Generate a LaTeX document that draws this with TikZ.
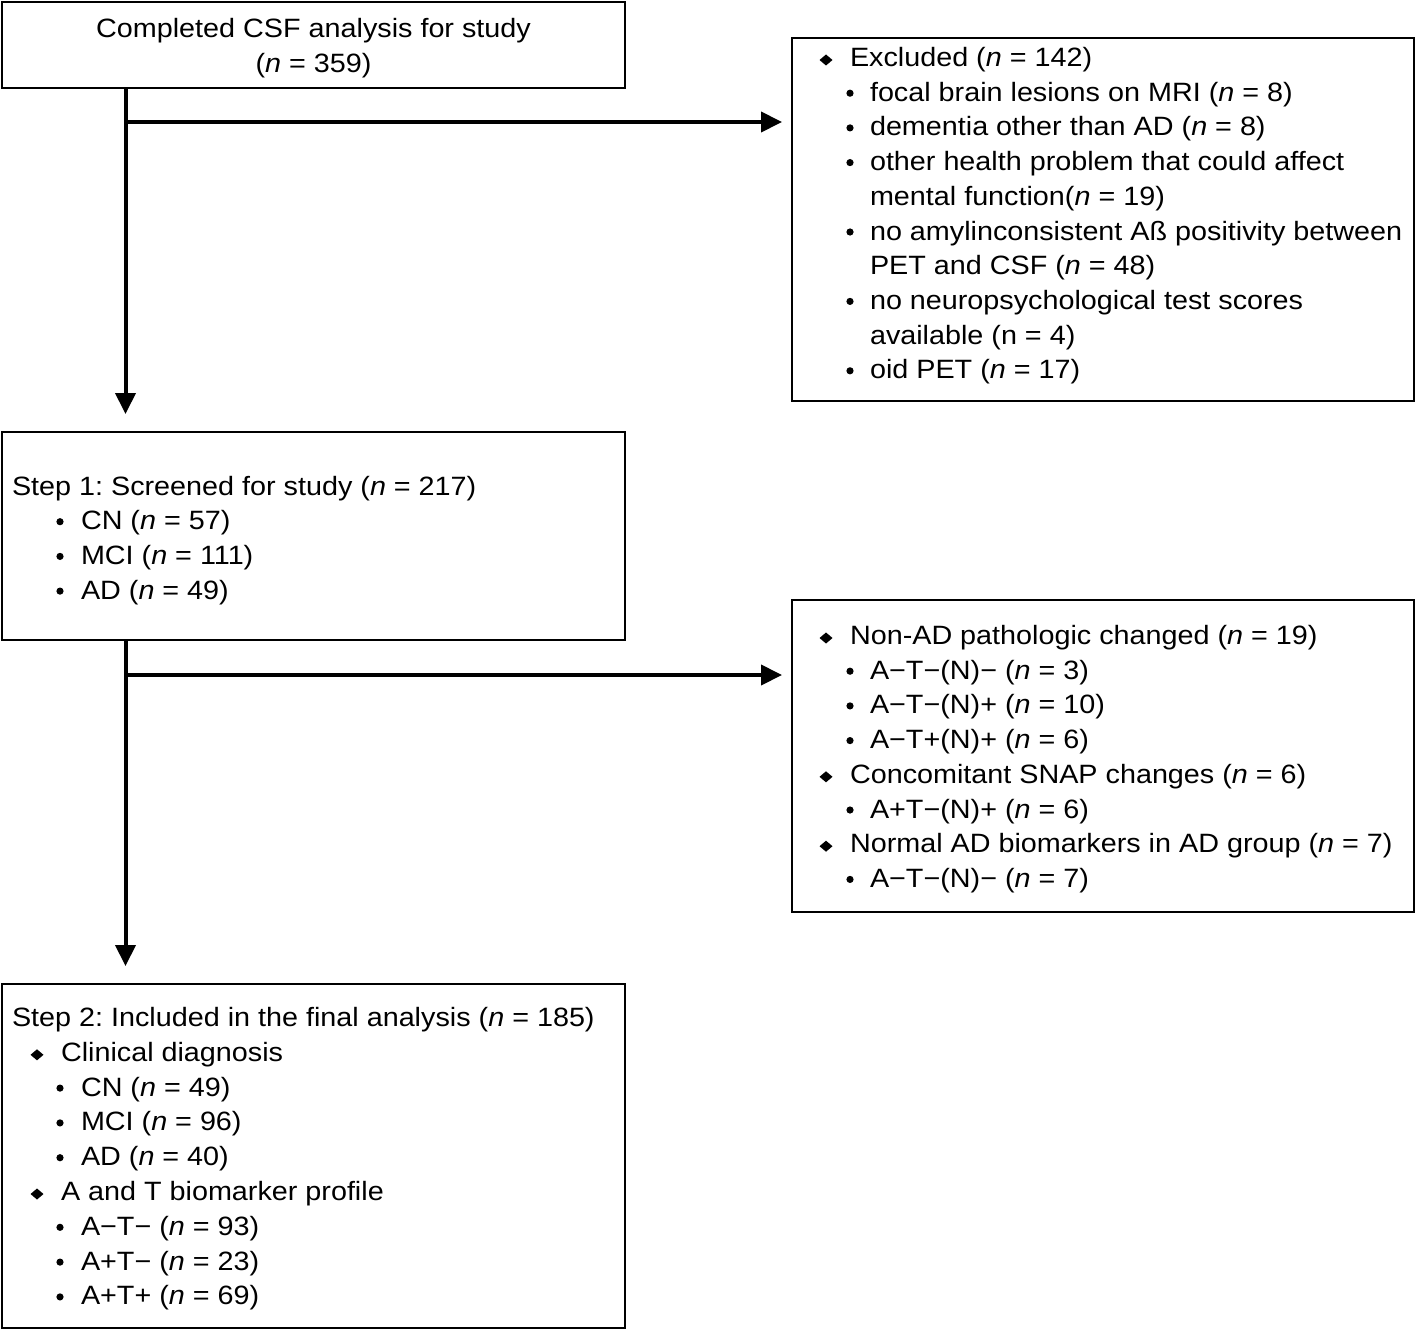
\documentclass[tikz,border=0pt]{standalone}
\usepackage{fontspec}
\setmainfont[FakeStretch=1.085]{Liberation Sans}
\usetikzlibrary{arrows.meta,fit}
\tikzset{
  box/.style={draw=black, line width=1pt, inner sep=0pt, fill=none},
  txt/.style={anchor=base west, inner sep=0pt, outer sep=0pt, font=\fontsize{13.25}{16}\selectfont},
  ctxt/.style={anchor=base, inner sep=0pt, outer sep=0pt, font=\fontsize{13.25}{16}\selectfont},
  arr/.style={line width=2pt, -{Triangle[length=10.5pt,width=10pt]}},
}
\newcommand{\dia}[2]{\fill (#1-6.5,#2-6.5) -- (#1,#2-12) -- (#1+6.5,#2-6.5) -- (#1,#2-1) -- cycle;}
\newcommand{\bul}[2]{\fill (#1,#2-8) circle[radius=3.6];}
\newcommand{\nn}{\textit{n}}
\frenchspacing
\begin{document}
\begin{tikzpicture}[x=0.5pt,y=-0.5pt]
\useasboundingbox (0,0) rectangle (1416,1332);
% boxes
\node[box, fit={(2,2) (625,88)}] (b1) {};
\node[box, fit={(792,38) (1414,401)}] (b2) {};
\node[box, fit={(2,432) (625,640)}] (b3) {};
\node[box, fit={(792,600) (1414,912)}] (b4) {};
\node[box, fit={(2,984) (625,1328)}] (b5) {};

% box 1 text
\node[ctxt] (t1a) at (313.5,37.5) {Completed CSF analysis for study};
\node[ctxt] (t1b) at (313.5,72.2) {(\nn{} = 359)};

% box 2 text
\dia{826}{66.5}
\node[txt] (e0) at (850,66.5) {Excluded (\nn{} = 142)};
\bul{850}{101.2}
\node[txt] (e1) at (870,101.2) {focal brain lesions on MRI (\nn{} = 8)};
\bul{850}{135.9}
\node[txt] (e2) at (870,135.9) {dementia other than AD (\nn{} = 8)};
\bul{850}{170.6}
\node[txt] (e3) at (870,170.6) {other health problem that could affect};
\node[txt] (e4) at (870,205.3) {mental function(\nn{} = 19)};
\bul{850}{240.0}
\node[txt] (e5) at (870,240.0) {no amylinconsistent Aß positivity between};
\node[txt] (e6) at (870,274.7) {PET and CSF (\nn{} = 48)};
\bul{850}{309.4}
\node[txt] (e7) at (870,309.4) {no neuropsychological test scores};
\node[txt] (e8) at (870,344.1) {available (n = 4)};
\bul{850}{378.8}
\node[txt] (e9) at (870,378.8) {oid PET (\nn{} = 17)};

% box 3 text
\node[txt] (s0) at (12,495) {Step 1: Screened for study (\nn{} = 217)};
\bul{60}{529.7}
\node[txt] (s1) at (81,529.7) {CN (\nn{} = 57)};
\bul{60}{564.4}
\node[txt] (s2) at (81,564.4) {MCI (\nn{} = 111)};
\bul{60}{599.1}
\node[txt] (s3) at (81,599.1) {AD (\nn{} = 49)};

% box 4 text
\dia{826}{644.5}
\node[txt] (p0) at (850,644.5) {Non-AD pathologic changed (\nn{} = 19)};
\bul{850}{679.2}
\node[txt] (p1) at (870,679.2) {A−T−(N)− (\nn{} = 3)};
\bul{850}{713.9}
\node[txt] (p2) at (870,713.9) {A−T−(N)+ (\nn{} = 10)};
\bul{850}{748.6}
\node[txt] (p3) at (870,748.6) {A−T+(N)+ (\nn{} = 6)};
\dia{826}{783.3}
\node[txt] (p4) at (850,783.3) {Concomitant SNAP changes (\nn{} = 6)};
\bul{850}{818.0}
\node[txt] (p5) at (870,818.0) {A+T−(N)+ (\nn{} = 6)};
\dia{826}{852.7}
\node[txt] (p6) at (850,852.7) {Normal AD biomarkers in AD group (\nn{} = 7)};
\bul{850}{887.4}
\node[txt] (p7) at (870,887.4) {A−T−(N)− (\nn{} = 7)};

% box 5 text
\node[txt] (f0) at (12,1026.5) {Step 2: Included in the final analysis (\nn{} = 185)};
\dia{37}{1061.3}
\node[txt] (f1) at (61,1061.3) {Clinical diagnosis};
\bul{60}{1096.1}
\node[txt] (f2) at (81,1096.1) {CN (\nn{} = 49)};
\bul{60}{1130.9}
\node[txt] (f3) at (81,1130.9) {MCI (\nn{} = 96)};
\bul{60}{1165.7}
\node[txt] (f4) at (81,1165.7) {AD (\nn{} = 40)};
\dia{37}{1200.5}
\node[txt] (f5) at (61,1200.5) {A and T biomarker profile};
\bul{60}{1235.3}
\node[txt] (f6) at (81,1235.3) {A−T− (\nn{} = 93)};
\bul{60}{1270.1}
\node[txt] (f7) at (81,1270.1) {A+T− (\nn{} = 23)};
\bul{60}{1304.9}
\node[txt] (f8) at (81,1304.9) {A+T+ (\nn{} = 69)};

% connectors
\coordinate (ax) at (125.5,0);
\coordinate (h1) at (125.5,122);
\coordinate (h2) at (125.5,675);
\draw[arr, shorten >=8.5pt] (b1.south -| ax) -- (b3.north -| ax);
\draw[arr, shorten >=4.5pt] (h1) -- (h1 -| b2.west);
\draw[arr, shorten >=8.5pt] (b3.south -| ax) -- (b5.north -| ax);
\draw[arr, shorten >=4.5pt] (h2) -- (h2 -| b4.west);
\end{tikzpicture}
\end{document}
